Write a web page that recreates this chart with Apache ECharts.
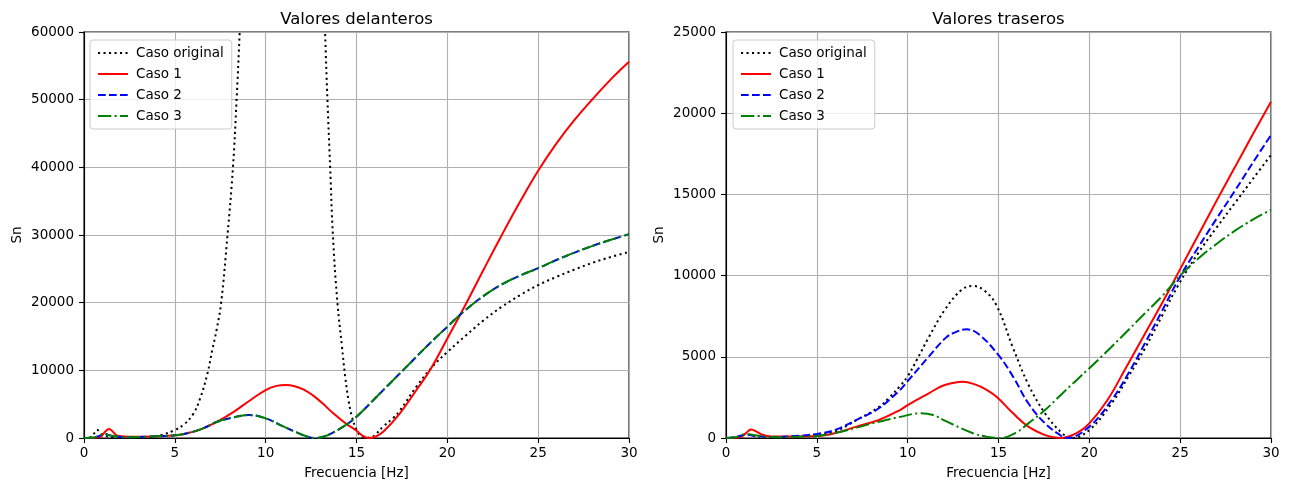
<!DOCTYPE html>
<html>
<head>
<meta charset="utf-8">
<script src="https://cdn.jsdelivr.net/npm/echarts@6/dist/echarts.min.js"></script>
<style>
  html, body { margin:0; padding:0; background:#fff; }
  #chart { width:1289px; height:481px; }
</style>
</head>
<body>
<div id="chart"></div>
<script>
// valores: pares [frecuencia, Sn]
const seriesNames = ['Caso original', 'Caso 1', 'Caso 2', 'Caso 3'];

// Valores delanteros (el caso original sale del rango entre ~8.6 y ~13.3 Hz)
const delOriginal = [[0,0],[0.4,150],[0.73,1180],[0.95,600],[1.2,300],[1.6,80],[2.5,20],[3.5,80],[4.2,400],[5,1180],[5.5,2000],[6,3500],[6.4,5900],[6.8,9600],[7.06,13000],[7.3,16000],[7.55,20000],[7.9,30000],[8.2,40000],[8.4,50000],[8.57,60000],[8.8,75000],[9.5,120000],[11,180000],[12.7,120000],[13.1,75000],[13.27,60000],[13.4,50000],[13.55,40000],[13.7,30000],[13.95,20000],[14.2,13500],[14.38,9000],[14.56,5600],[14.75,3150],[15.0,1200],[15.2,400],[15.5,50],[15.8,100],[16,400],[16.47,1700],[17,2900],[17.4,4100],[18.3,7600],[19.2,10600],[20,12700],[21,15100],[22,17400],[23,19400],[24,21100],[25,22600],[26,23800],[27,24900],[28,25900],[29,26750],[30,27500]];
const delCaso1 = [[0,0],[0.6,50],[0.92,200],[1.15,900],[1.38,1330],[1.6,900],[1.83,350],[2.39,200],[3,170],[4,250],[5,390],[5.5,590],[6.42,1280],[7.34,2420],[8.26,3900],[9.17,5620],[10,7090],[10.6,7700],[11.1,7830],[11.6,7650],[12.1,7150],[12.6,6300],[13.1,5200],[13.72,3650],[14.45,2070],[15,1080],[15.35,300],[15.64,0],[16,150],[16.47,930],[17.39,3650],[18.3,7100],[19.04,10000],[20,14700],[21,19700],[22,24900],[23,30000],[24,34900],[25,39500],[26,43500],[27,47000],[28,50100],[29,53000],[30,55600]];
const delCaso2 = [[0,0],[0.5,60],[0.8,250],[1.1,590],[1.5,350],[2,150],[2.5,100],[3,130],[4,250],[5,390],[5.5,590],[6.42,1280],[7.34,2400],[8.26,3060],[9.08,3400],[10,2900],[11,1670],[11.74,790],[12.2,300],[12.71,0],[13.3,300],[14.27,1670],[15,3150],[16,5800],[17,8500],[18,11200],[19,13900],[20,16450],[21,18900],[22,21000],[23,22700],[24,24000],[25,25100],[26,26300],[27,27400],[28,28400],[29,29300],[30,30100]];
const delCaso3 = [[0,0],[0.5,60],[0.8,250],[1.1,590],[1.5,350],[2,150],[2.5,100],[3,130],[4,250],[5,390],[5.5,590],[6.42,1280],[7.34,2400],[8.26,3060],[9.08,3400],[10,2900],[11,1670],[11.74,790],[12.2,300],[12.71,0],[13.3,300],[14.27,1670],[15,3150],[16,5800],[17,8500],[18,11200],[19,13900],[20,16450],[21,18900],[22,21000],[23,22700],[24,24000],[25,25100],[26,26300],[27,27400],[28,28400],[29,29300],[30,30100]];

// Valores traseros
const traOriginal = [[0,0],[0.5,40],[1.1,200],[1.6,120],[2.5,50],[3.5,80],[5,200],[6,400],[7.19,1110],[8.41,1900],[9,2500],[9.58,3200],[10,3800],[10.5,4800],[11.16,6200],[12.08,7950],[13,9150],[13.61,9360],[14.2,9100],[14.88,8190],[15.8,5550],[16.64,3300],[17.56,1520],[18.47,330],[19.03,0],[20,490],[21.23,2140],[22.15,3780],[23.06,5520],[23.98,7470],[24.9,9420],[26,11400],[27,12950],[28,14450],[29,15950],[30,17430]];
const traCaso1 = [[0,0],[0.8,60],[1.1,300],[1.38,530],[1.7,380],[2,200],[2.5,100],[3.5,90],[5,120],[6,300],[7.19,700],[8.41,1110],[9.58,1720],[10,2030],[11.16,2750],[12,3250],[13.06,3470],[13.7,3300],[14.3,3000],[14.88,2550],[15.8,1520],[16.64,700],[17.56,180],[18.4,0],[19.3,300],[20,900],[21,2340],[22,4300],[23,6300],[24,8300],[25,10400],[26,12500],[27,14600],[28,16650],[29,18700],[30,20710]];
const traCaso2 = [[0,0],[0.5,40],[1.1,200],[1.6,120],[2.5,60],[3.5,100],[5,250],[6,500],[7.19,1110],[8.41,1830],[9.58,2960],[10,3500],[11.16,5010],[12.08,6150],[12.6,6500],[13.24,6690],[13.9,6400],[15,5100],[15.8,3780],[16.64,2140],[17.56,900],[18.3,250],[18.74,0],[20,700],[21.23,2340],[22.15,3980],[23.06,5830],[23.98,7780],[25,9950],[26,11750],[27,13500],[28,15200],[29,16950],[30,18650]];
const traCaso3 = [[0,0],[0.5,40],[1.14,250],[1.6,170],[2.2,80],[3,50],[4,80],[5,130],[6,300],[7.19,640],[8.41,1000],[9.58,1300],[10.7,1520],[11.4,1420],[12.08,1050],[13.6,290],[14.4,70],[15.1,0],[16,350],[16.64,900],[17.56,1720],[18.47,2700],[20,4300],[21.23,5620],[22.15,6650],[23.06,7680],[23.98,8700],[25,10000],[26,11050],[27,11950],[28,12750],[29,13450],[30,14050]];

const FONT = 'DejaVu Sans';
// estilos tipo matplotlib: ':', '-', '--', '-.' con grosor 1.5pt
const estilos = [
  { color:'#000000', type:[2.1,3.4] },
  { color:'#ff0000', type:'solid' },
  { color:'#0000ff', type:[7.7,3.3] },
  { color:'#008000', type:[13.3,3.3,2.1,3.3] }
];

function mkSeries(idx, data, i) {
  return {
    name: seriesNames[i], type:'line', xAxisIndex: idx, yAxisIndex: idx,
    data: data, smooth: 0.4, symbol:'none', clip: true,
    lineStyle: { color: estilos[i].color, width: 2, type: estilos[i].type },
    itemStyle: { color: estilos[i].color },
    z: 2 + i
  };
}
function xAx(idx) {
  return {
    gridIndex: idx, type:'value', min:0, max:30, interval:5,
    name:'Frecuencia [Hz]', nameLocation:'middle', nameGap:28,
    nameTextStyle:{ color:'#000', fontFamily:FONT, fontSize:13.5 },
    axisLine:{ onZero:false, lineStyle:{ color:'#000', width:1.1 } },
    axisTick:{ length:5, lineStyle:{ color:'#000', width:1.1 } },
    axisLabel:{ color:'#000', fontFamily:FONT, fontSize:13.5, margin:8, formatter: v => String(v) },
    splitLine:{ show:true, lineStyle:{ color:'#b0b0b0', width:1.1 } }
  };
}
function yAx(idx, max, step) {
  return {
    gridIndex: idx, type:'value', min:0, max:max, interval:step,
    name:'Sn', nameLocation:'middle', nameGap:60,
    nameTextStyle:{ color:'#000', fontFamily:FONT, fontSize:13.5 },
    axisLine:{ show:true, onZero:false, lineStyle:{ color:'#000', width:1.1 } },
    axisTick:{ show:true, length:5, lineStyle:{ color:'#000', width:1.1 } },
    axisLabel:{ color:'#000', fontFamily:FONT, fontSize:13.5, margin:10, formatter: v => String(v) },
    splitLine:{ show:true, lineStyle:{ color:'#b0b0b0', width:1.1 } }
  };
}
function mkLegend(left) {
  return {
    data: seriesNames, orient:'vertical', left:left, top:40,
    padding:[6,8,6,7], itemWidth:30, itemHeight:14, itemGap:7,
    backgroundColor:'rgba(255,255,255,0.8)', borderColor:'#cccccc', borderWidth:1, borderRadius:3,
    itemStyle:{ opacity:0 },
    textStyle:{ color:'#000', fontFamily:FONT, fontSize:13.5, padding:[0,0,0,3] },
    selectedMode:false
  };
}
function mkTitle(text, cx) {
  return { text:text, left:cx, top:11, padding:0, textAlign:'center',
    textStyle:{ color:'#000', fontFamily:FONT, fontSize:16.5, fontWeight:'normal' } };
}

const chart = echarts.init(document.getElementById('chart'), null, { renderer:'canvas' });
chart.setOption({
  animation:false,
  backgroundColor:'#fff',
  title:[ mkTitle('Valores delanteros', 356.5), mkTitle('Valores traseros', 998.5) ],
  legend:[ mkLegend(90), mkLegend(733) ],
  grid:[
    { left:84, right:660, top:32, bottom:43, outerBoundsMode:'none', containLabel:false, show:true, borderColor:'#000', borderWidth:1.1, backgroundColor:'transparent' },
    { left:726, right:18, top:32, bottom:43, outerBoundsMode:'none', containLabel:false, show:true, borderColor:'#000', borderWidth:1.1, backgroundColor:'transparent' }
  ],
  xAxis:[ xAx(0), xAx(1) ],
  yAxis:[ yAx(0, 60000, 10000), yAx(1, 25000, 5000) ],
  series:[
    mkSeries(0, delOriginal, 0), mkSeries(0, delCaso1, 1), mkSeries(0, delCaso2, 2), mkSeries(0, delCaso3, 3),
    mkSeries(1, traOriginal, 0), mkSeries(1, traCaso1, 1), mkSeries(1, traCaso2, 2), mkSeries(1, traCaso3, 3)
  ]
});
window.addEventListener('resize', () => chart.resize());
</script>
</body>
</html>
